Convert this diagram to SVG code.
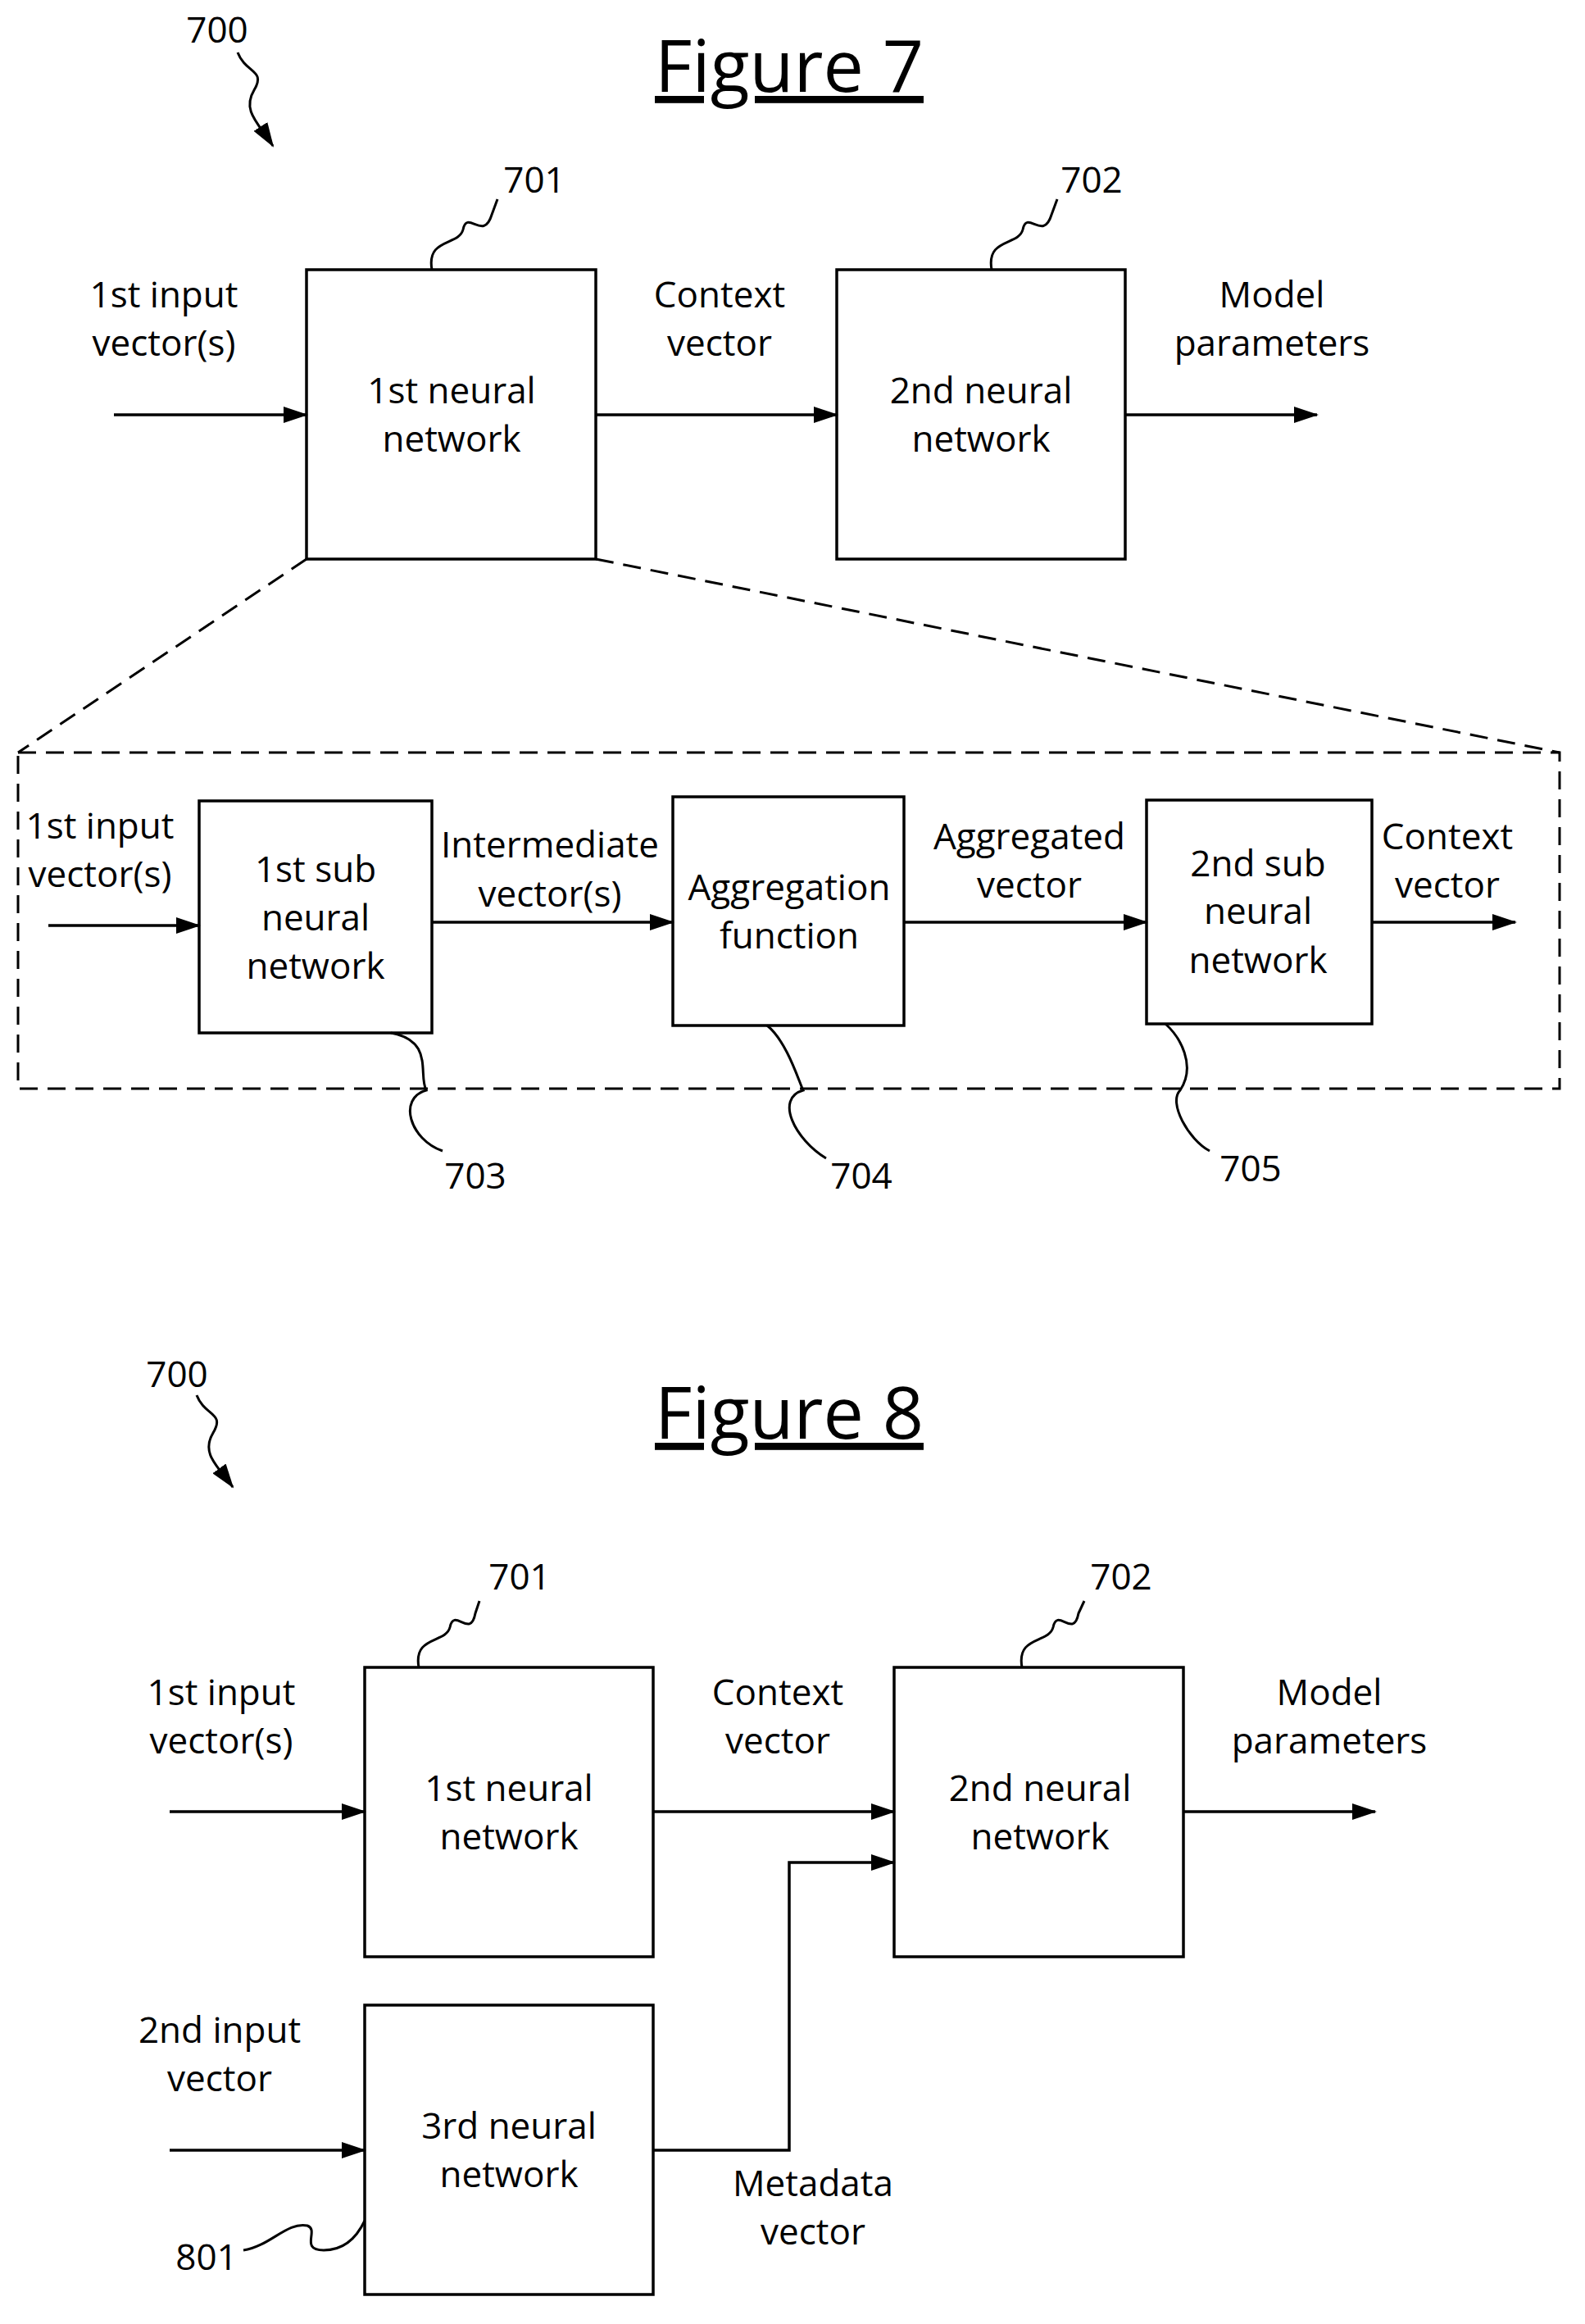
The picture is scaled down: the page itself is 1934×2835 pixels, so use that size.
<svg xmlns="http://www.w3.org/2000/svg" width="1934" height="2835" viewBox="0 0 1934 2835">
<style>
.b{fill:none;stroke:#000;stroke-width:3.5}
.a{fill:none;stroke:#000;stroke-width:3.5;marker-end:url(#ah2)}
.d{fill:none;stroke:#000;stroke-width:3;stroke-dasharray:22,12}
.s{fill:none;stroke:#000;stroke-width:3}
text{font-family:"Open Sans","Liberation Sans",sans-serif;font-size:44px;text-anchor:middle;fill:#000}
.t{font-size:88px;text-decoration:underline}
</style>
<defs>
<marker id="ah2" markerWidth="30" markerHeight="20" refX="28" refY="10" orient="auto" markerUnits="userSpaceOnUse"><path d="M0,0L30,10L0,20z"/></marker></defs>

<text class="t" x="963" y="112">Figure 7</text>
<text x="265" y="52">700</text>
<path class="s" d="M290,64 C300,90 325,85 310,110 C295,135 315,150 333,178" marker-end="url(#ah2)"/>

<g id="connectors7">
<path class="a" d="M139,506H374"/>
<path class="a" d="M727,506H1021"/>
<path class="a" d="M1373,506H1607"/>
<path class="d" d="M374,682L22,918M727,682L1903,918"/>
<rect class="d" x="22" y="918" width="1881" height="410"/>
<path class="a" d="M59,1129H243"/>
<path class="a" d="M527,1125H821"/>
<path class="a" d="M1103,1125H1399"/>
<path class="a" d="M1674,1125H1849"/>
</g>
<g id="n701"><rect class="b" x="374" y="329" width="353" height="353"/><text x="551" y="492">1st neural</text><text x="551" y="551">network</text></g>
<g id="n702"><rect class="b" x="1021" y="329" width="352" height="353"/><text x="1197" y="492">2nd neural</text><text x="1197" y="551">network</text></g>
<text x="200" y="375">1st input</text><text x="200" y="434">vector(s)</text>
<text x="878" y="375">Context</text><text x="878" y="434">vector</text>
<text x="1552" y="375">Model</text><text x="1552" y="434">parameters</text>
<text x="652" y="235">701</text><path class="s" d="M527,329 C520,290 560,300 565,280 C570,255 590,295 600,262 L607,243"/>
<text x="1332" y="235">702</text><path class="s" d="M1210,329 C1203,290 1243,300 1248,280 C1253,255 1273,295 1283,262 L1290,243"/>

<g id="n703"><rect class="b" x="243" y="977" width="284" height="283"/><text x="385" y="1076">1st sub</text><text x="385" y="1135">neural</text><text x="385" y="1194">network</text></g>
<g id="n704"><rect class="b" x="821" y="972" width="282" height="279"/><text x="963" y="1098">Aggregation</text><text x="963" y="1157">function</text></g>
<g id="n705"><rect class="b" x="1399" y="976" width="275" height="273"/><text x="1535" y="1069">2nd sub</text><text x="1535" y="1127">neural</text><text x="1535" y="1187">network</text></g>
<text x="122" y="1023">1st input</text><text x="122" y="1082">vector(s)</text>
<text x="671" y="1046">Intermediate</text><text x="671" y="1106">vector(s)</text>
<text x="1256" y="1036">Aggregated</text><text x="1256" y="1095">vector</text>
<text x="1766" y="1036">Context</text><text x="1766" y="1095">vector</text>
<text x="580" y="1450">703</text><path class="s" d="M477,1260 C530,1270 510,1310 520,1330 C485,1340 500,1390 540,1404"/>
<text x="1051" y="1450">704</text><path class="s" d="M936,1251 C960,1270 975,1320 980,1330 C945,1340 970,1390 1008,1413"/>
<text x="1526" y="1441">705</text><path class="s" d="M1422,1249 C1440,1265 1460,1300 1440,1330 C1425,1345 1450,1390 1476,1404"/>

<text class="t" x="963" y="1755">Figure 8</text>
<text x="216" y="1692">700</text>
<path class="s" d="M240,1702 C250,1728 275,1723 260,1748 C245,1773 265,1788 284,1814" marker-end="url(#ah2)"/>
<g id="connectors8">
<path class="a" d="M207,2210H445"/>
<path class="a" d="M797,2210H1091"/>
<path class="a" d="M1444,2210H1678"/>
<path class="a" d="M797,2623H963V2272H1091"/>
<path class="a" d="M207,2623H445"/>
</g>
<g id="m701"><rect class="b" x="445" y="2034" width="352" height="353"/><text x="621" y="2197">1st neural</text><text x="621" y="2256">network</text></g>
<g id="m702"><rect class="b" x="1091" y="2034" width="353" height="353"/><text x="1269" y="2197">2nd neural</text><text x="1269" y="2256">network</text></g>
<g id="m801"><rect class="b" x="445" y="2446" width="352" height="353"/><text x="621" y="2609">3rd neural</text><text x="621" y="2668">network</text></g>
<text x="270" y="2080">1st input</text><text x="270" y="2139">vector(s)</text>
<text x="949" y="2080">Context</text><text x="949" y="2139">vector</text>
<text x="1622" y="2080">Model</text><text x="1622" y="2139">parameters</text>
<text x="268" y="2492">2nd input</text><text x="268" y="2551">vector</text>
<text x="992" y="2679">Metadata</text><text x="992" y="2738">vector</text>
<text x="634" y="1939">701</text><path class="s" d="M511,2034 C504,1995 544,2005 549,1985 C554,1960 574,2000 580,1968 L585,1953"/>
<text x="1368" y="1939">702</text><path class="s" d="M1247,2034 C1240,1995 1280,2005 1285,1985 C1290,1960 1310,2000 1316,1968 L1323,1953"/>
<text x="252" y="2769">801</text><path class="s" d="M297,2745 C330,2740 350,2710 375,2715 C390,2720 365,2745 395,2745 C420,2745 435,2730 445,2709"/>
</svg>
